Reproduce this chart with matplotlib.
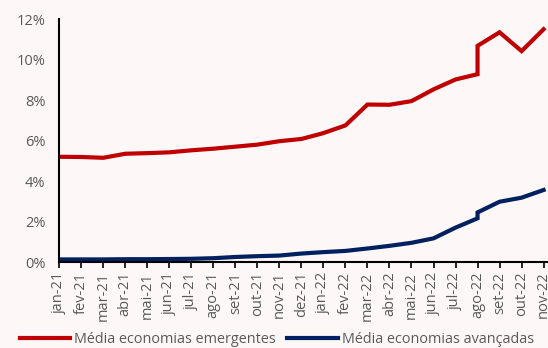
#!/usr/bin/env python3
"""Média das taxas de juro: economias emergentes vs avançadas."""

import matplotlib
matplotlib.use("Agg")
import matplotlib.pyplot as plt
from matplotlib.ticker import PercentFormatter

MONTHS = [
    "jan-21", "fev-21", "mar-21", "abr-21", "mai-21", "jun-21", "jul-21",
    "ago-21", "set-21", "out-21", "nov-21", "dez-21", "jan-22", "fev-22",
    "mar-22", "abr-22", "mai-22", "jun-22", "jul-22", "ago-22", "set-22",
    "out-22", "nov-22",
]

# month index of each observation (ago-22 carries two readings)
OBS_POS = list(range(20)) + [19, 20, 21, 22]

EMERGENTES = [
    5.20, 5.19, 5.15, 5.35, 5.38, 5.42, 5.52, 5.60, 5.70, 5.80, 5.97, 6.08,
    6.37, 6.75, 7.78, 7.77, 7.95, 8.53, 9.02, 9.28, 10.68, 11.35, 10.42, 11.50,
]

AVANCADAS = [
    0.13, 0.13, 0.13, 0.14, 0.14, 0.15, 0.16, 0.19, 0.25, 0.29, 0.32, 0.42,
    0.49, 0.55, 0.67, 0.80, 0.95, 1.17, 1.70, 2.16, 2.45, 2.98, 3.18, 3.56,
]

RED = "#C00000"
NAVY = "#002060"
GREY = "#595959"

plt.rcParams.update({
    "font.family": ["Open Sans", "DejaVu Sans"],
})


def main() -> None:
    fig = plt.figure(figsize=(5.48, 3.48), dpi=100)
    fig.patch.set_facecolor("#fdf8f7")
    ax = fig.add_axes([0.108, 0.247, 0.892, 0.698])
    ax.set_facecolor("none")

    ax.plot(OBS_POS, EMERGENTES, color=RED, linewidth=3.0,
            solid_joinstyle="miter", label="Média economias emergentes")
    ax.plot(OBS_POS, AVANCADAS, color=NAVY, linewidth=3.0,
            solid_joinstyle="miter", label="Média economias avançadas")

    ax.set_xlim(0, 22.2)
    ax.set_ylim(0, 12)
    ax.set_yticks(range(0, 13, 2))
    ax.yaxis.set_major_formatter(PercentFormatter(xmax=100, decimals=0))
    ax.set_xticks(range(len(MONTHS)), MONTHS, rotation=90)

    for side in ("top", "right"):
        ax.spines[side].set_visible(False)
    for side in ("left", "bottom"):
        ax.spines[side].set_color("black")
        ax.spines[side].set_linewidth(1.5)

    ax.tick_params(axis="y", length=0, pad=10, labelsize=10.5, labelcolor=GREY)
    ax.tick_params(axis="x", length=4, width=1.2, direction="out", pad=3,
                   labelsize=10.5, labelcolor=GREY)

    fig.legend(
        loc="lower left",
        bbox_to_anchor=(0.012, -0.035),
        ncol=2,
        frameon=False,
        fontsize=10.4,
        labelcolor=GREY,
        handlelength=3.5,
        handletextpad=0.3,
        columnspacing=0.75,
    )

    fig.savefig("out.png", dpi=100, facecolor=fig.get_facecolor())


if __name__ == "__main__":
    main()
